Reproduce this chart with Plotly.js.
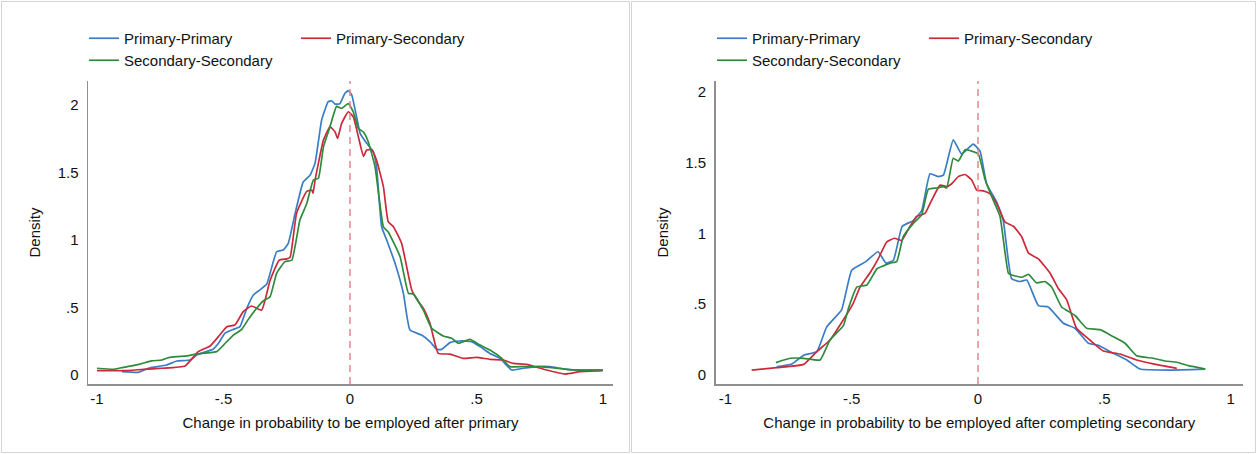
<!DOCTYPE html>
<html>
<head>
<meta charset="utf-8">
<script src="https://cdn.plot.ly/plotly-3.0.1.min.js"></script>
<style>
  html, body { margin: 0; padding: 0; background: #ffffff; }
  #chart { width: 1257px; height: 454px; }
</style>
</head>
<body>
<div id="chart"></div>
<script>
// ---------------- data ----------------
const seriesNames = ["Primary-Primary", "Primary-Secondary", "Secondary-Secondary"];
const xTickVals = [-1, -0.5, 0, 0.5, 1];
const xTickText = ["-1", "-.5", "0", ".5", "1"];
const yTickVals = [0, 0.5, 1, 1.5, 2];
const yTickText = ["0", ".5", "1", "1.5", "2"];
const leftXTitle = "Change in probability to be employed after primary";
const rightXTitle = "Change in probability to be employed after completing secondary";
const yTitle = "Density";

// Left panel: after primary
const leftPPx = [-0.902,-0.837,-0.797,-0.725,-0.685,-0.632,-0.606,-0.54,-0.52,-0.494,-0.461,-0.435,-0.408,-0.382,-0.356,-0.329,-0.29,-0.264,-0.244,-0.217,-0.185,-0.158,-0.138,-0.112,-0.086,-0.072,-0.059,-0.04,-0.02,-0.007,0.007,0.026,0.04,0.066,0.092,0.105,0.125,0.145,0.178,0.211,0.237,0.283,0.316,0.343,0.362,0.395,0.435,0.481,0.514,0.553,0.593,0.639,0.685,0.738,0.79,0.856,0.935,0.999];
const leftPPy = [0.025,0.02,0.05,0.074,0.104,0.111,0.148,0.193,0.235,0.31,0.338,0.358,0.494,0.593,0.63,0.674,0.913,0.926,0.975,1.197,1.43,1.48,1.57,1.89,2.025,2.03,2.007,2.01,2.087,2.106,2.074,1.913,1.79,1.716,1.654,1.54,1.098,1.0,0.827,0.605,0.333,0.296,0.247,0.19,0.19,0.24,0.252,0.247,0.21,0.16,0.123,0.037,0.05,0.062,0.062,0.042,0.037,0.037];

const leftPSx = [-1.0,-0.896,-0.817,-0.744,-0.652,-0.6,-0.553,-0.52,-0.487,-0.455,-0.422,-0.389,-0.349,-0.316,-0.28,-0.25,-0.237,-0.211,-0.171,-0.151,-0.146,-0.138,-0.105,-0.079,-0.059,-0.049,-0.033,-0.007,0.013,0.033,0.053,0.066,0.086,0.105,0.132,0.151,0.171,0.204,0.244,0.27,0.29,0.316,0.349,0.395,0.448,0.5,0.553,0.606,0.645,0.698,0.777,0.85,0.909,0.999];
const leftPSy = [0.032,0.032,0.042,0.05,0.067,0.173,0.215,0.284,0.358,0.37,0.469,0.511,0.481,0.70,0.85,0.86,0.87,1.2,1.36,1.37,1.346,1.444,1.74,1.84,1.80,1.753,1.864,1.95,1.913,1.765,1.62,1.667,1.667,1.59,1.395,1.136,1.1,0.975,0.63,0.545,0.494,0.383,0.16,0.155,0.123,0.131,0.116,0.111,0.086,0.079,0.037,0.007,0.025,0.032];

const leftSSx = [-1.0,-0.935,-0.896,-0.83,-0.784,-0.744,-0.718,-0.685,-0.645,-0.606,-0.527,-0.5,-0.461,-0.428,-0.402,-0.369,-0.343,-0.316,-0.29,-0.257,-0.23,-0.198,-0.171,-0.145,-0.125,-0.105,-0.079,-0.053,-0.033,-0.007,0.013,0.033,0.053,0.072,0.099,0.132,0.151,0.198,0.231,0.25,0.29,0.323,0.369,0.402,0.428,0.474,0.514,0.553,0.6,0.632,0.685,0.751,0.817,0.883,0.999];
const leftSSy = [0.05,0.042,0.057,0.081,0.104,0.111,0.128,0.136,0.141,0.156,0.173,0.222,0.296,0.338,0.412,0.494,0.548,0.58,0.753,0.84,0.85,1.148,1.27,1.444,1.457,1.69,1.84,1.99,1.975,2.01,1.95,1.827,1.80,1.728,1.543,1.098,1.06,0.876,0.605,0.6,0.48,0.346,0.289,0.272,0.235,0.264,0.222,0.185,0.123,0.062,0.062,0.062,0.05,0.037,0.037];

// Right panel: after completing secondary
const rightPPx = [-0.797,-0.737,-0.69,-0.638,-0.599,-0.54,-0.5,-0.444,-0.396,-0.364,-0.335,-0.30,-0.256,-0.223,-0.19,-0.157,-0.137,-0.098,-0.065,-0.019,0.008,0.034,0.074,0.10,0.133,0.166,0.193,0.239,0.278,0.338,0.384,0.437,0.476,0.536,0.589,0.641,0.76,0.899];
const rightPPy = [0.058,0.078,0.14,0.165,0.34,0.46,0.74,0.80,0.87,0.79,0.81,1.05,1.09,1.16,1.42,1.40,1.41,1.66,1.56,1.63,1.58,1.35,1.22,1.09,0.68,0.66,0.67,0.49,0.48,0.365,0.33,0.224,0.21,0.153,0.106,0.042,0.035,0.042];

const rightPSx = [-0.896,-0.797,-0.69,-0.638,-0.586,-0.533,-0.494,-0.467,-0.428,-0.395,-0.361,-0.33,-0.302,-0.269,-0.243,-0.21,-0.183,-0.15,-0.124,-0.104,-0.078,-0.051,-0.025,-0.005,0.021,0.047,0.074,0.107,0.14,0.173,0.2,0.239,0.285,0.318,0.351,0.39,0.443,0.496,0.562,0.628,0.694,0.787];
const rightPSy = [0.035,0.052,0.075,0.165,0.247,0.39,0.506,0.62,0.72,0.82,0.94,0.965,0.95,1.05,1.12,1.14,1.235,1.34,1.33,1.35,1.40,1.415,1.376,1.305,1.30,1.28,1.21,1.08,1.05,0.976,0.86,0.82,0.72,0.61,0.53,0.33,0.247,0.17,0.148,0.106,0.078,0.047];

const rightSSx = [-0.80,-0.744,-0.69,-0.625,-0.586,-0.533,-0.513,-0.48,-0.44,-0.40,-0.375,-0.348,-0.322,-0.296,-0.256,-0.223,-0.197,-0.163,-0.137,-0.124,-0.098,-0.078,-0.051,-0.025,0.001,0.028,0.054,0.087,0.12,0.133,0.173,0.2,0.232,0.265,0.292,0.331,0.384,0.43,0.483,0.536,0.582,0.628,0.694,0.74,0.787,0.833,0.90];
const rightSSy = [0.087,0.118,0.118,0.106,0.247,0.348,0.47,0.62,0.635,0.75,0.77,0.79,0.80,0.976,1.07,1.13,1.31,1.32,1.33,1.32,1.53,1.51,1.59,1.58,1.56,1.38,1.26,1.12,0.72,0.706,0.69,0.71,0.65,0.66,0.62,0.48,0.42,0.33,0.32,0.27,0.224,0.136,0.118,0.099,0.09,0.066,0.042];

// ---------------- styling ----------------
const colors = ["#3b7dc4", "#cc2a3a", "#2e8b3c"];
const FONT = "'Liberation Sans', Arial, Helvetica, sans-serif";
const W = 1257, H = 454;

function tr(x, y, i, xa, ya, leg, show) {
  return {
    type: "scatter", mode: "lines", x: x, y: y, name: seriesNames[i],
    xaxis: xa, yaxis: ya, legend: leg, showlegend: show,
    line: { color: colors[i], width: 1.7, shape: "spline", smoothing: 0.4 },
    hoverinfo: "x+y+name"
  };
}

const data = [
  tr(leftPPx, leftPPy, 0, "x", "y", "legend", true),
  tr(leftPSx, leftPSy, 1, "x", "y", "legend", true),
  tr(leftSSx, leftSSy, 2, "x", "y", "legend3", true),
  tr(rightPPx, rightPPy, 0, "x2", "y2", "legend2", true),
  tr(rightPSx, rightPSy, 1, "x2", "y2", "legend2", true),
  tr(rightSSx, rightSSy, 2, "x2", "y2", "legend4", true)
];

function xAxis(domain, range, title, anchor) {
  return {
    domain: domain, range: range, anchor: anchor,
    showline: true, linecolor: "#8f8f8f", linewidth: 1.5,
    ticks: "", showgrid: false, zeroline: false,
    tickmode: "array", tickvals: xTickVals, ticktext: xTickText,
    tickfont: { family: FONT, size: 15, color: "#111" },
    ticklabelstandoff: 0,
    title: { text: title, font: { family: FONT, size: 15, color: "#111" }, standoff: 12 },
    fixedrange: true
  };
}
function yAxis(domain, range, anchor) {
  return {
    domain: domain, range: range, anchor: anchor,
    showline: true, linecolor: "#8f8f8f", linewidth: 1.5,
    ticks: "", showgrid: false, zeroline: false,
    tickmode: "array", tickvals: yTickVals, ticktext: yTickText,
    tickfont: { family: FONT, size: 15, color: "#111" },
    ticklabelstandoff: 5,
    title: { text: yTitle, font: { family: FONT, size: 15, color: "#111" }, standoff: 13 },
    fixedrange: true
  };
}

function legendAt(pxX, pxTop, ew) {
  return {
    x: pxX / W, y: 1 - pxTop / H, xanchor: "left", yanchor: "top",
    orientation: "h", bgcolor: "rgba(0,0,0,0)", borderwidth: 0,
    font: { family: FONT, size: 15, color: "#111" },
    entrywidth: ew, entrywidthmode: "pixels", traceorder: "normal"
  };
}

const layout = {
  width: W, height: H,
  margin: { l: 0, r: 0, t: 0, b: 0 },
  paper_bgcolor: "#ffffff", plot_bgcolor: "#ffffff",
  font: { family: FONT, size: 15, color: "#111" },
  xaxis: xAxis([88 / W, 613 / W], [-1.0356, 1.0395], leftXTitle, "y"),
  yaxis: yAxis([1 - 384 / H, 1 - 81 / H], [-0.0667, 2.178], "x"),
  xaxis2: xAxis([715.6 / W, 1243 / W], [-1.0388, 1.049], rightXTitle, "y2"),
  yaxis2: yAxis([1 - 384 / H, 1 - 81 / H], [-0.0635, 2.075], "x2"),
  legend: legendAt(84, 22, 167),
  legend3: legendAt(84, 44, 167),
  legend2: legendAt(712, 22, 167),
  legend4: legendAt(712, 44, 167),
  shapes: [
    { type: "rect", xref: "paper", yref: "paper", x0: 1.5 / W, x1: 629.5 / W, y0: 1.5 / H, y1: 1 - 1.5 / H,
      line: { color: "#d4d4d4", width: 1 }, layer: "below" },
    { type: "rect", xref: "paper", yref: "paper", x0: 631.5 / W, x1: 1 - 1.5 / W, y0: 1.5 / H, y1: 1 - 1.5 / H,
      line: { color: "#d4d4d4", width: 1 }, layer: "below" },
    { type: "line", xref: "x", yref: "y domain", x0: 0, x1: 0, y0: 0, y1: 1,
      line: { color: "#e4868c", width: 1.5, dash: "7px,5px" } },
    { type: "line", xref: "x2", yref: "y2 domain", x0: 0, x1: 0, y0: 0, y1: 1,
      line: { color: "#e4868c", width: 1.5, dash: "7px,5px" } }
  ],
  showlegend: true
};

Plotly.newPlot("chart", data, layout, { staticPlot: true, displayModeBar: false });
</script>
</body>
</html>
